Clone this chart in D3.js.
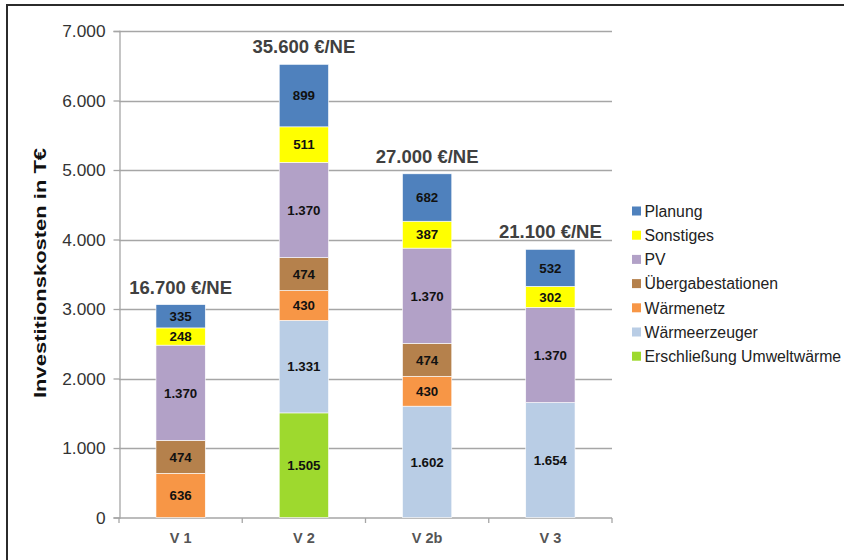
<!DOCTYPE html>
<html>
<head>
<meta charset="utf-8">
<script src="https://cdn.jsdelivr.net/npm/d3@7/dist/d3.min.js"></script>
<style>
  html, body { margin: 0; padding: 0; background: #fff; }
  svg { display: block; font-family: "Liberation Sans", Arial, sans-serif; }
</style>
</head>
<body>
<svg id="chart" width="844" height="560"></svg>
<script>
const categories = ["V 1", "V 2", "V 2b", "V 3"];
const seriesNames = ["Erschließung Umweltwärme", "Wärmeerzeuger", "Wärmenetz", "Übergabestationen", "PV", "Sonstiges", "Planung"];
const erschliessung = [0, 1505, 0, 0];
const waermeerzeuger = [0, 1331, 1602, 1654];
const waermenetz = [636, 430, 430, 0];
const uebergabe = [474, 474, 474, 0];
const pv = [1370, 1370, 1370, 1370];
const sonstiges = [248, 511, 387, 302];
const planung = [335, 899, 682, 532];
const perNE = ["16.700 €/NE", "35.600 €/NE", "27.000 €/NE", "21.100 €/NE"];
const yTicks = [0, 1000, 2000, 3000, 4000, 5000, 6000, 7000];
const colors = ["#9ed92e", "#b9cde5", "#f79646", "#b5814c", "#b2a1c7", "#ffff00", "#4f81bd"];
const legendOrder = ["Planung", "Sonstiges", "PV", "Übergabestationen", "Wärmenetz", "Wärmeerzeuger", "Erschließung Umweltwärme"];

const seriesValues = [erschliessung, waermeerzeuger, waermenetz, uebergabe, pv, sonstiges, planung];
const rows = categories.map((c, i) => {
  const r = { cat: c };
  seriesNames.forEach((s, j) => r[s] = seriesValues[j][i]);
  return r;
});

const svg = d3.select("#chart");
const fmt = v => d3.format(",")(v).replace(/,/g, ".");

// outer frame
svg.append("rect").attr("x", 7).attr("y", 5).attr("width", 900).attr("height", 600)
  .attr("fill", "none").attr("stroke", "#2b2b2b").attr("stroke-width", 2);

const x = d3.scaleBand().domain(categories).range([119, 612]).paddingInner(0.6).paddingOuter(0.3);
const y = d3.scaleLinear().domain([0, 7000]).range([517.5, 31]);
const color = d3.scaleOrdinal().domain(seriesNames).range(colors);

// gridlines
svg.append("g").selectAll("line").data(yTicks.filter(t => t > 0)).join("line")
  .attr("x1", 119).attr("x2", 612)
  .attr("y1", d => Math.round(y(d)) + 0.5).attr("y2", d => Math.round(y(d)) + 0.5)
  .attr("stroke", "#a6a6a6").attr("stroke-width", 1.3);

// y axis
const yAxis = svg.append("g").attr("transform", "translate(119.5,0)")
  .call(d3.axisLeft(y).tickValues(yTicks).tickFormat(fmt).tickSize(6).tickPadding(8));
yAxis.select(".domain").attr("stroke", "#a6a6a6").attr("stroke-width", 1.3);
yAxis.selectAll(".tick line").attr("stroke", "#a6a6a6").attr("stroke-width", 1.3);
yAxis.selectAll(".tick text").attr("font-size", 17.3).attr("fill", "#333").attr("font-family", "Liberation Sans, Arial, sans-serif");

// x axis
const xAxis = svg.append("g").attr("transform", "translate(0,518)")
  .call(d3.axisBottom(x).tickSize(0).tickPadding(15));
xAxis.select(".domain").remove();
xAxis.selectAll(".tick text").attr("font-size", 14.5).attr("font-weight", "bold").attr("fill", "#555")
  .attr("font-family", "Liberation Sans, Arial, sans-serif");
svg.append("line").attr("x1", 119).attr("x2", 612).attr("y1", 518).attr("y2", 518)
  .attr("stroke", "#a6a6a6").attr("stroke-width", 1.3);
const step = x.step();
svg.append("g").selectAll("line").data(d3.range(categories.length + 1)).join("line")
  .attr("x1", i => 119 + i * step).attr("x2", i => 119 + i * step)
  .attr("y1", 518).attr("y2", 523).attr("stroke", "#a6a6a6").attr("stroke-width", 1.3);

// stacked bars
const stack = d3.stack().keys(seriesNames)(rows);
const layers = svg.append("g").selectAll("g").data(stack).join("g")
  .attr("fill", d => color(d.key));
layers.selectAll("rect").data(d => d.map(p => ({ p, key: d.key }))).join("rect")
  .filter(d => d.p[1] - d.p[0] > 0)
  .attr("x", d => x(d.p.data.cat))
  .attr("width", x.bandwidth())
  .attr("y", d => y(d.p[1]))
  .attr("height", d => y(d.p[0]) - y(d.p[1]))
  .attr("stroke", "#fff").attr("stroke-width", 0.6);

// value labels
stack.forEach(layer => {
  layer.forEach(p => {
    const v = p[1] - p[0];
    if (v <= 0) return;
    svg.append("text")
      .attr("x", x(p.data.cat) + x.bandwidth() / 2)
      .attr("y", (y(p[0]) + y(p[1])) / 2)
      .attr("dy", "0.36em")
      .attr("text-anchor", "middle")
      .attr("font-size", 13.3).attr("font-weight", "bold").attr("fill", "#111")
      .text(fmt(v));
  });
});

// totals per NE
const totals = rows.map(r => d3.sum(seriesNames, s => r[s]));
svg.append("g").selectAll("text").data(categories).join("text")
  .attr("x", (c) => x(c) + x.bandwidth() / 2)
  .attr("y", (c, i) => y(totals[i]) - 11)
  .attr("text-anchor", "middle")
  .attr("font-size", 18.5).attr("font-weight", "bold").attr("fill", "#404040")
  .text((c, i) => perNE[i]);

// y axis title
svg.append("text")
  .attr("transform", "translate(46,273) rotate(-90)")
  .attr("text-anchor", "middle")
  .attr("font-size", 16.5).attr("font-weight", "bold").attr("fill", "#111")
  .attr("textLength", 250).attr("lengthAdjust", "spacingAndGlyphs")
  .text("Investitionskosten in T€");

// legend
const legend = svg.append("g").selectAll("g").data(legendOrder).join("g")
  .attr("transform", (d, i) => `translate(632,${211 + i * 24.2})`);
legend.append("rect").attr("x", 0).attr("y", -4.5).attr("width", 9).attr("height", 9)
  .attr("fill", d => color(d));
legend.append("text").attr("x", 12.5).attr("dy", "0.36em")
  .attr("font-size", 15.8).attr("fill", "#222").text(d => d);
</script>
</body>
</html>
